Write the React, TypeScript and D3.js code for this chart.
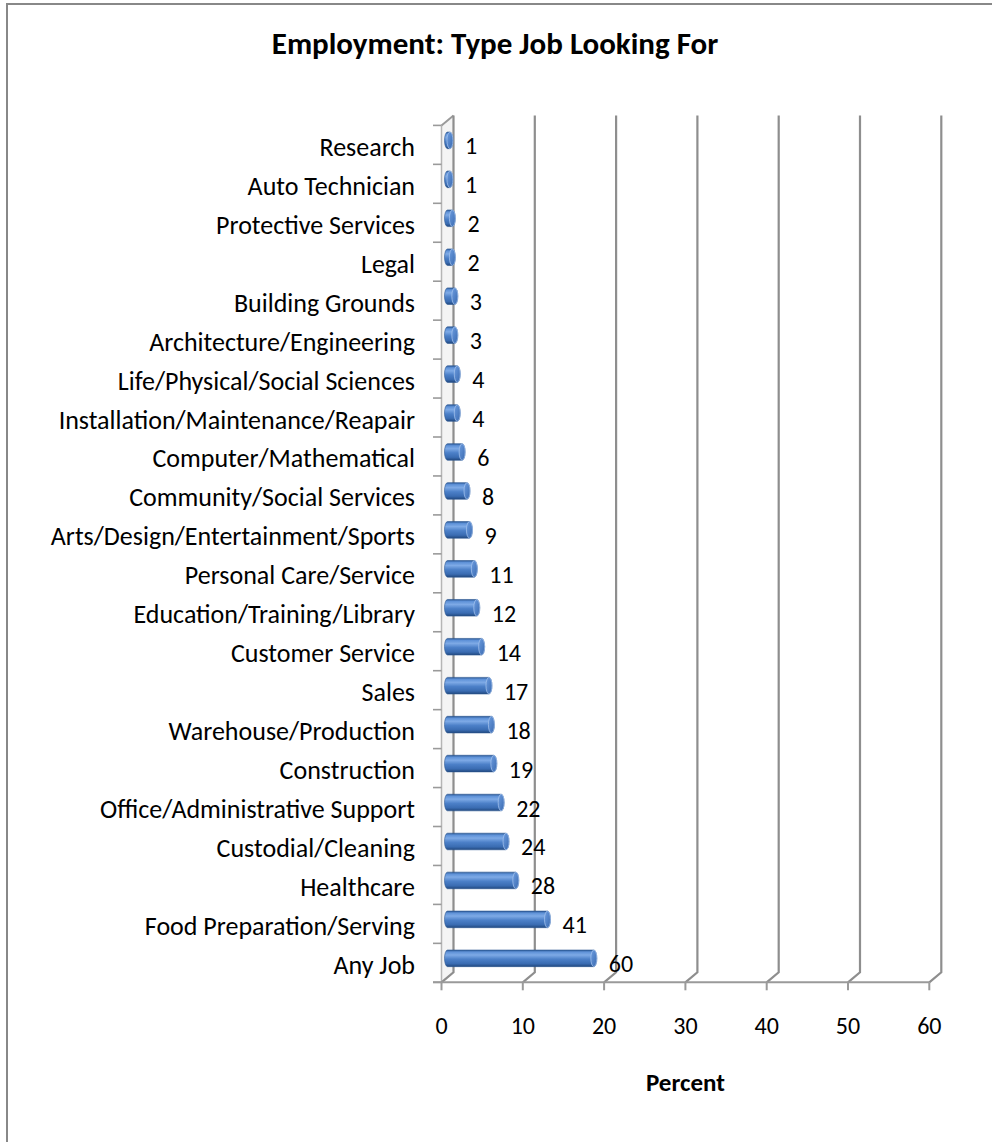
import React from "react";
import * as d3 from "d3";

const categories = [
  "Research",
  "Auto Technician",
  "Protective Services",
  "Legal",
  "Building Grounds",
  "Architecture/Engineering",
  "Life/Physical/Social Sciences",
  "Installation/Maintenance/Reapair",
  "Computer/Mathematical",
  "Community/Social Services",
  "Arts/Design/Entertainment/Sports",
  "Personal Care/Service",
  "Education/Training/Library",
  "Customer Service",
  "Sales",
  "Warehouse/Production",
  "Construction",
  "Office/Administrative Support",
  "Custodial/Cleaning",
  "Healthcare",
  "Food Preparation/Serving",
  "Any Job",
];
const labelValues = [1, 1, 2, 2, 3, 3, 4, 4, 6, 8, 9, 11, 12, 14, 17, 18, 19, 22, 24, 28, 41, 60];
const barPercents = [0.3, 0.3, 0.6, 0.6, 0.9, 0.9, 1.2, 1.2, 1.8, 2.4, 2.7, 3.3, 3.6, 4.2, 5.1, 5.4, 5.7, 6.6, 7.2, 8.4, 12.3, 18.0];
const xTicks = [0, 10, 20, 30, 40, 50, 60];
const title = "Employment: Type Job Looking For";
const xTitle = "Percent";

const W = 992;
const H = 1142;
const FONT = "Carlito, Calibri, Lato, sans-serif";
const DX = 12;
const DY = -10;

export default function App() {
  const x = d3.scaleLinear().domain([0, 60]).range([441.5, 929.3]);
  const y = d3.scaleBand<string>().domain(categories).range([125.4, 982.3]).paddingInner(0).paddingOuter(0);
  const floorY = y.range()[1];
  const topY = y.range()[0];
  const bw = y.bandwidth();
  const r = 8.3;
  const rx = 3;
  const boundaries = d3.range(categories.length + 1).map((i) => topY + i * bw);

  return (
    <svg width={W} height={H} style={{ position: "absolute", left: 0, top: 0, background: "#fff" }} fontFamily={FONT}>
      <defs>
        <linearGradient id="cyl" x1="0" y1="0" x2="0" y2="1">
          <stop offset="0" stopColor="#2c5a98" />
          <stop offset="0.12" stopColor="#5f92d8" />
          <stop offset="0.3" stopColor="#7eaae6" />
          <stop offset="0.55" stopColor="#4c80c8" />
          <stop offset="0.82" stopColor="#3a6cb2" />
          <stop offset="1" stopColor="#22497f" />
        </linearGradient>
        <linearGradient id="cap" x1="0" y1="0" x2="1" y2="1">
          <stop offset="0" stopColor="#6d9de0" />
          <stop offset="1" stopColor="#3a6ab0" />
        </linearGradient>
      </defs>
      <rect x={7} y={4} width={W + 20} height={H + 20} fill="#fff" stroke="#888" strokeWidth={2} />

      <text x={495} y={43} textAnchor="middle" dominantBaseline="central" fontWeight="bold" fontSize={31} fill="#000">
        {title}
      </text>

      {/* left wall */}
      <polygon
        points={`${x(0)},${topY} ${x(0) + DX},${topY + DY} ${x(0) + DX},${floorY + DY} ${x(0)},${floorY}`}
        fill="#f4f4f4"
      />
      <line x1={x(0)} y1={topY} x2={x(0)} y2={floorY} stroke="#b5b5b5" strokeWidth={1.5} />
      <line x1={x(0)} y1={topY} x2={x(0) + DX} y2={topY + DY} stroke="#9a9a9a" strokeWidth={2} />

      {/* gridlines on back wall with floor diagonals */}
      {xTicks.map((t) => (
        <polyline
          key={"g" + t}
          points={`${x(t)},${floorY} ${x(t) + DX},${floorY + DY} ${x(t) + DX},${topY + DY}`}
          fill="none"
          stroke="#8e8e8e"
          strokeWidth={2.2}
        />
      ))}

      {/* floor front edge and ticks */}
      <line x1={433} y1={floorY} x2={x(60)} y2={floorY} stroke="#9a9a9a" strokeWidth={2} />
      {xTicks.map((t) => (
        <line key={"t" + t} x1={x(t)} y1={floorY} x2={x(t)} y2={floorY + 8} stroke="#9a9a9a" strokeWidth={2} />
      ))}
      {boundaries.map((b, i) => (
        <line key={"b" + i} x1={433} y1={b} x2={x(0)} y2={b} stroke="#9a9a9a" strokeWidth={1.6} />
      ))}

      {/* bars */}
      {categories.map((c, i) => {
        const yc = (y(c) as number) + bw / 2;
        const cy = yc + DY / 2 + 0.5;
        const x0 = x(0) + DX / 2;
        const x1 = x(barPercents[i]) + DX / 2;
        const body = `M${x0},${cy - r} L${x1},${cy - r} A${rx},${r} 0 0 1 ${x1},${cy + r} L${x0},${cy + r} A${rx},${r} 0 0 1 ${x0},${cy - r} Z`;
        return (
          <g key={"bar" + i}>
            <path d={body} fill="url(#cyl)" stroke="#2a5590" strokeWidth={0.6} />
            <ellipse cx={x1} cy={cy} rx={rx} ry={r} fill="url(#cap)" stroke="#a9c6ee" strokeWidth={0.7} />
          </g>
        );
      })}

      {/* value labels */}
      {categories.map((c, i) => {
        const yc = (y(c) as number) + bw / 2;
        return (
          <text key={"v" + i} x={x(barPercents[i]) + DX / 2 + 15} y={yc + 1} dominantBaseline="central" fontSize={24} fill="#000">
            {labelValues[i]}
          </text>
        );
      })}

      {/* category labels */}
      {categories.map((c) => (
        <text key={"c" + c} x={415} y={(y(c) as number) + bw / 2 + 2} textAnchor="end" dominantBaseline="central" fontSize={26} fill="#000">
          {c}
        </text>
      ))}

      {/* x tick labels */}
      {xTicks.map((t) => (
        <text key={"xl" + t} x={x(t)} y={1025} textAnchor="middle" dominantBaseline="central" fontSize={24} fill="#000">
          {t}
        </text>
      ))}
      <text x={(x(0) + x(60)) / 2} y={1082} textAnchor="middle" dominantBaseline="central" fontWeight="bold" fontSize={25} fill="#000">
        {xTitle}
      </text>
    </svg>
  );
}
